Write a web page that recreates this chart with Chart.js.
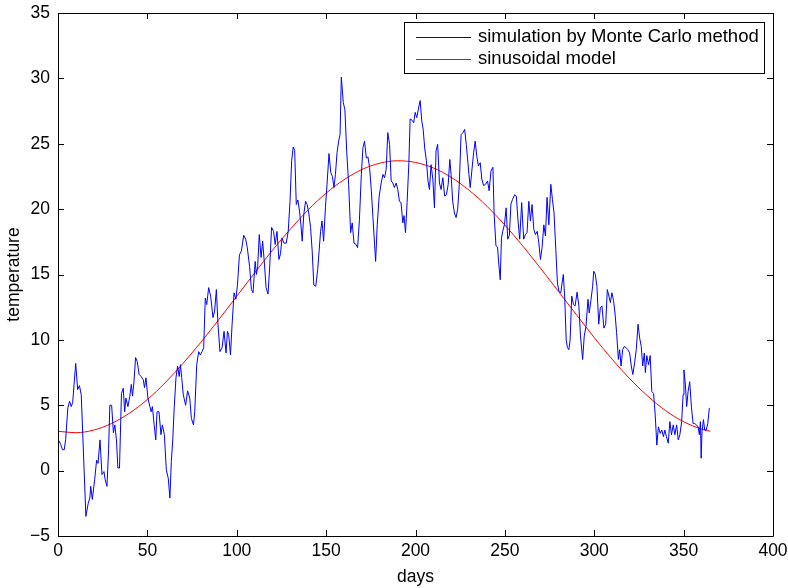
<!DOCTYPE html>
<html>
<head>
<meta charset="utf-8">
<script src="https://cdn.jsdelivr.net/npm/chart.js@4"></script>
<style>
  html, body { margin: 0; padding: 0; background: #fff; }
  canvas { display: block; }
</style>
</head>
<body>
<canvas id="chart" width="788" height="588"></canvas>
<script>
// ====== data ======
const simDays = [
  0.5, 1.5, 2.5, 3.5, 4.3, 5.5, 6.5, 7.4, 8.2, 9.9, 11.0, 12.0, 13.0, 15.6, 16.9, 17.8, 18.3, 19.2, 20.5, 21.6,
  22.4, 23.5, 24.6, 25.7, 26.4, 27.4, 28.3, 29.0, 30.0, 31.0, 31.8, 32.7, 33.5, 34.4, 35.5, 36.5, 37.3, 38.0, 39.1, 40.2,
  41.0, 41.7, 42.5, 43.4, 44.3, 45.4, 46.5, 47.7, 48.4, 49.2, 50.3, 51.4, 52.1, 52.8, 53.8, 54.7, 55.4, 56.5, 57.6, 58.4,
  59.5, 60.6, 61.7, 62.6, 63.4, 64.2, 65.0, 66.0, 66.9, 67.8, 68.5, 69.2, 70.1, 71.4, 72.5, 73.7, 74.6, 75.8, 76.5, 77.6,
  78.7, 79.6, 80.6, 81.5, 82.4, 83.2, 84.3, 85.4, 86.7, 87.6, 88.6, 89.5, 90.6, 91.8, 92.9, 94.0, 94.8, 95.5, 96.5, 97.4,
  98.5, 99.5, 100.4, 101.5, 102.6, 103.9, 105.0, 105.9, 107.2, 108.2, 109.1, 110.3, 111.0, 111.7, 112.6, 113.6, 114.5, 115.5, 116.4, 117.5,
  118.4, 119.5, 120.6, 121.5, 122.5, 123.6, 124.5, 125.3, 126.4, 127.7, 128.8, 129.8, 130.7, 131.6, 132.4, 133.3, 134.2, 135.1, 135.9, 136.6,
  137.5, 138.5, 139.4, 140.3, 141.3, 142.2, 143.1, 144.2, 145.3, 146.9, 147.7, 148.6, 149.6, 150.5, 151.6, 152.6, 153.5, 154.4, 155.2, 156.1,
  157.0, 157.8, 158.5, 159.6, 160.5, 161.5, 162.6, 163.7, 164.6, 165.6, 166.7, 167.6, 168.6, 169.7, 170.6, 171.5, 172.5, 173.4, 174.3, 175.3,
  176.2, 177.1, 177.7, 178.6, 179.7, 180.8, 181.8, 182.7, 183.6, 184.5, 185.5, 186.4, 187.3, 188.2, 189.2, 190.1, 191.0, 191.9, 192.9, 193.6,
  194.4, 195.3, 196.3, 197.0, 198.1, 199.0, 199.8, 200.7, 201.6, 202.6, 203.5, 204.3, 205.2, 206.1, 207.0, 207.8, 208.7, 209.7, 210.6, 211.5,
  212.4, 213.4, 214.3, 215.3, 216.3, 217.3, 218.3, 219.2, 219.9, 220.8, 221.8, 222.7, 223.6, 224.5, 225.5, 226.6, 227.5, 228.4, 229.1, 229.9,
  230.6, 231.5, 232.5, 233.4, 234.3, 235.2, 236.2, 237.1, 238.1, 239.2, 240.3, 241.2, 242.2, 243.3, 244.0, 245.0, 245.9, 246.6, 247.4, 248.1,
  248.8, 249.8, 250.7, 251.6, 252.5, 253.4, 254.3, 255.5, 256.4, 257.3, 258.3, 259.4, 260.5, 261.5, 262.4, 263.4, 264.3, 265.2, 266.2, 267.1,
  268.1, 269.0, 269.9, 270.8, 271.8, 272.7, 273.6, 274.6, 275.7, 276.6, 277.5, 278.5, 279.4, 280.3, 281.3, 282.0, 282.7, 283.5, 284.3, 285.0,
  285.8, 286.5, 287.4, 288.4, 289.3, 290.4, 291.4, 292.3, 293.5, 294.4, 295.4, 296.5, 297.2, 298.2, 299.1, 299.7, 300.6, 301.5, 302.5, 303.4,
  304.3, 305.4, 306.4, 307.3, 308.2, 309.0, 309.9, 310.8, 311.6, 312.5, 313.5, 314.2, 315.0, 315.9, 316.8, 317.9, 318.8, 319.8, 320.7, 321.6,
  322.6, 323.5, 324.5, 325.4, 326.3, 327.1, 328.0, 328.6, 329.4, 330.4, 331.3, 332.2, 333.2, 334.1, 335.0, 335.9, 336.9, 337.8, 338.7, 339.5,
  340.4, 341.4, 342.3, 343.2, 344.2, 345.1, 346.1, 347.0, 347.9, 348.9, 349.7, 350.2, 351.0, 351.7, 352.5, 353.4, 354.4, 355.3, 356.2, 357.2,
  358.1, 358.8, 359.4, 359.8, 360.3, 361.1, 361.8, 362.6, 363.5, 364.4
];
const simTemps = [
  2.3, 2.0, 1.6, 1.6, 2.4, 4.8, 5.3, 4.9, 5.2, 8.2, 6.2, 6.5, 5.8, -3.5, -2.5, -2.1, -1.2, -2.2, -0.7, 0.8,
  0.55, 2.35, -0.3, -0.07, -0.7, -1.2, 1.6, 5.0, 5.0, 2.9, 3.5, 2.35, 0.2, 0.2, 5.9, 6.3, 4.5, 5.55, 4.9, 5.7,
  6.6, 5.7, 6.8, 8.65, 8.35, 7.35, 7.2, 6.95, 6.35, 7.1, 5.55, 4.9, 4.5, 4.9, 3.5, 2.35, 4.5, 4.5, 2.75, 3.5,
  2.75, 0.06, -0.6, -2.1, 0.7, 2.35, 4.8, 7.1, 8.0, 7.2, 8.1, 7.1, 5.8, 5.0, 6.1, 5.55, 4.0, 3.5, 4.5, 8.1,
  9.1, 8.85, 9.1, 9.4, 13.2, 12.7, 14.0, 13.35, 11.7, 12.2, 13.85, 11.2, 9.1, 9.4, 10.65, 9.0, 10.65, 10.4, 8.85, 11.2,
  13.6, 13.1, 14.2, 16.5, 16.8, 18.0, 17.7, 17.05, 15.6, 13.85, 13.6, 16.0, 15.0, 15.6, 18.05, 16.3, 17.55, 15.8, 14.0, 13.5,
  15.5, 18.6, 18.3, 17.3, 18.3, 16.15, 16.6, 17.8, 17.4, 17.4, 18.3, 20.6, 23.7, 24.75, 24.5, 20.35, 20.7, 19.85, 18.8, 17.55,
  19.6, 20.6, 20.35, 19.7, 18.6, 16.8, 14.2, 14.1, 15.4, 18.3, 19.1, 17.55, 20.1, 21.9, 24.25, 22.8, 22.5, 21.65, 22.65, 24.3,
  25.2, 25.7, 30.1, 28.15, 27.6, 24.45, 21.9, 18.2, 18.95, 17.4, 17.3, 17.05, 19.1, 22.65, 24.7, 25.2, 23.9, 24.0, 23.2, 21.4,
  19.35, 17.3, 16.0, 18.8, 21.0, 22.0, 22.65, 22.4, 23.05, 25.85, 24.95, 22.15, 22.0, 21.65, 22.0, 21.5, 20.6, 20.5, 18.95, 19.5,
  18.2, 20.5, 23.55, 26.9, 26.8, 26.6, 27.4, 27.0, 27.65, 28.3, 26.75, 26.1, 24.6, 23.7, 22.15, 21.5, 23.4, 22.3, 20.1, 24.45,
  24.95, 22.0, 21.5, 22.4, 21.0, 21.1, 21.9, 23.8, 22.65, 20.6, 19.7, 19.35, 20.0, 21.9, 25.7, 25.85, 26.1, 24.95, 23.9, 22.65,
  21.65, 22.9, 24.3, 25.2, 24.05, 23.3, 23.55, 22.3, 21.8, 21.9, 22.15, 21.4, 22.9, 23.2, 19.6, 17.2, 17.1, 15.8, 14.6, 17.8,
  18.3, 18.85, 20.1, 17.7, 18.0, 20.4, 20.75, 21.1, 21.0, 19.2, 17.7, 20.5, 17.7, 18.05, 18.2, 20.6, 19.1, 20.35, 18.45, 18.05,
  18.3, 17.4, 16.15, 17.05, 18.8, 17.95, 20.9, 18.8, 21.9, 20.75, 19.7, 16.9, 14.35, 13.7, 13.6, 14.35, 15.0, 13.2, 10.0, 9.4,
  9.25, 10.0, 13.35, 12.7, 12.6, 13.65, 12.6, 10.3, 8.5, 10.3, 11.05, 13.1, 12.05, 13.1, 14.1, 15.25, 15.0, 14.1, 11.2, 12.45,
  12.6, 10.9, 11.2, 13.85, 13.35, 12.85, 13.6, 13.0, 12.05, 10.55, 8.5, 9.25, 8.0, 9.25, 9.5, 9.4, 9.25, 9.0, 8.0, 7.35,
  8.25, 9.25, 11.2, 10.15, 9.5, 8.0, 9.0, 7.5, 8.8, 8.1, 8.8, 6.05, 5.9, 4.25, 1.95, 3.35, 2.85, 3.1, 2.6, 3.1,
  2.6, 2.1, 3.75, 2.75, 3.5, 2.75, 3.5, 2.35, 2.75, 3.75, 5.8, 7.7, 6.55, 4.9, 6.05, 6.8, 4.8, 3.6, 3.6, 3.5,
  3.35, 2.75, 3.75, 0.95, 3.0, 3.9, 3.1, 3.1, 3.6, 4.8
];

const modelDays = [0, 10, 20, 30, 40, 50, 60, 70, 80, 90, 100, 110, 120, 130, 140, 150, 160, 170, 180, 190,
  200, 210, 220, 230, 240, 250, 260, 270, 280, 290, 300, 310, 320, 330, 340, 350, 360, 365];
const modelTemps = [3.01, 2.90, 3.10, 3.61, 4.40, 5.44, 6.73, 8.21, 9.83, 11.56, 13.34, 15.12, 16.86, 18.47, 19.95, 21.22, 22.25, 23.03, 23.51, 23.70,
  23.57, 23.15, 22.43, 21.44, 20.22, 18.78, 17.18, 15.47, 13.70, 11.93, 10.17, 8.52, 7.01, 5.69, 4.58, 3.74, 3.18, 3.01];

const xTicks = [0, 50, 100, 150, 200, 250, 300, 350, 400];
const yTicks = [-5, 0, 5, 10, 15, 20, 25, 30, 35];
const seriesLabels = ["simulation by Monte Carlo method", "sinusoidal model"];
const seriesColors = ["#0000ff", "#ff0000"];

const FONT = "Liberation Sans, Arial, Helvetica, sans-serif";

// ====== box + inward ticks (matlab style) ======
const boxPlugin = {
  id: "box",
  afterDraw(chart) {
    const { ctx, chartArea: a, scales: { x, y } } = chart;
    const tl = 6;
    ctx.save();
    ctx.strokeStyle = "#000";
    ctx.lineWidth = 1;
    ctx.beginPath();
    ctx.rect(Math.round(a.left) + 0.5, Math.round(a.top) + 0.5,
      Math.round(a.right - a.left), Math.round(a.bottom - a.top));
    xTicks.forEach(v => {
      const px = Math.round(x.getPixelForValue(v)) + 0.5;
      ctx.moveTo(px, a.bottom); ctx.lineTo(px, a.bottom - tl);
      ctx.moveTo(px, a.top); ctx.lineTo(px, a.top + tl);
    });
    yTicks.forEach(v => {
      const py = Math.round(y.getPixelForValue(v)) + 0.5;
      ctx.moveTo(a.left, py); ctx.lineTo(a.left + tl, py);
      ctx.moveTo(a.right, py); ctx.lineTo(a.right - tl, py);
    });
    ctx.stroke();
    ctx.restore();
  }
};

// ====== legend box in the top right corner ======
const legendPlugin = {
  id: "boxLegend",
  afterDraw(chart) {
    const { ctx } = chart;
    const bx = 404, by = 22, bw = 360, bh = 51;
    ctx.save();
    ctx.fillStyle = "#fff";
    ctx.fillRect(bx, by, bw, bh);
    ctx.strokeStyle = "#000";
    ctx.lineWidth = 1;
    ctx.strokeRect(bx + 0.5, by + 0.5, bw, bh);
    ctx.font = "18.5px " + FONT;
    ctx.textBaseline = "middle";
    chart.data.datasets.forEach((ds, i) => {
      const cy = by + 15 + i * 22;
      ctx.beginPath();
      ctx.strokeStyle = seriesColors[i];
      ctx.moveTo(bx + 12, cy + 0.5);
      ctx.lineTo(bx + 67, cy + 0.5);
      ctx.stroke();
      ctx.fillStyle = "#000";
      ctx.fillText(ds.label, bx + 74, cy);
    });
    ctx.restore();
  }
};

new Chart(document.getElementById("chart"), {
  type: "line",
  data: {
    datasets: [
      {
        label: seriesLabels[0],
        data: simDays.map((d, i) => ({ x: d, y: simTemps[i] })),
        borderColor: seriesColors[0],
        borderWidth: 1,
        pointRadius: 0,
        tension: 0
      },
      {
        label: seriesLabels[1],
        data: modelDays.map((d, i) => ({ x: d, y: modelTemps[i] })),
        borderColor: seriesColors[1],
        borderWidth: 1,
        pointRadius: 0,
        cubicInterpolationMode: "monotone"
      }
    ]
  },
  options: {
    responsive: false,
    animation: false,
    layout: { padding: { top: 13, right: 15, left: 0, bottom: 0 } },
    plugins: { legend: { display: false }, tooltip: { enabled: false } },
    scales: {
      x: {
        type: "linear",
        min: 0, max: 400,
        afterFit: s => { s.height = 52; s.paddingLeft = 0; s.paddingRight = 0; },
        afterBuildTicks: s => { s.ticks = xTicks.map(v => ({ value: v })); },
        grid: { display: false, drawTicks: false },
        border: { display: false },
        ticks: { color: "#000", padding: 5, maxRotation: 0, font: { family: FONT, size: 17.5 } },
        title: { display: true, text: "days", color: "#000", padding: { top: 0, bottom: 0.5 }, font: { family: FONT, size: 17.5 } }
      },
      y: {
        type: "linear",
        min: -5, max: 35,
        afterFit: s => { s.width = 58; s.paddingTop = 0; s.paddingBottom = 0; },
        afterBuildTicks: s => { s.ticks = yTicks.map(v => ({ value: v })); },
        grid: { display: false, drawTicks: false },
        border: { display: false },
        ticks: {
          color: "#000", padding: 8, font: { family: FONT, size: 17.5 },
          callback: v => v < 0 ? "\u2212" + Math.abs(v) : String(v)
        },
        title: { display: true, text: "temperature", color: "#000", padding: { top: 3.5, bottom: 0 }, font: { family: FONT, size: 17.5 } }
      }
    }
  },
  plugins: [boxPlugin, legendPlugin]
});
</script>
</body>
</html>
